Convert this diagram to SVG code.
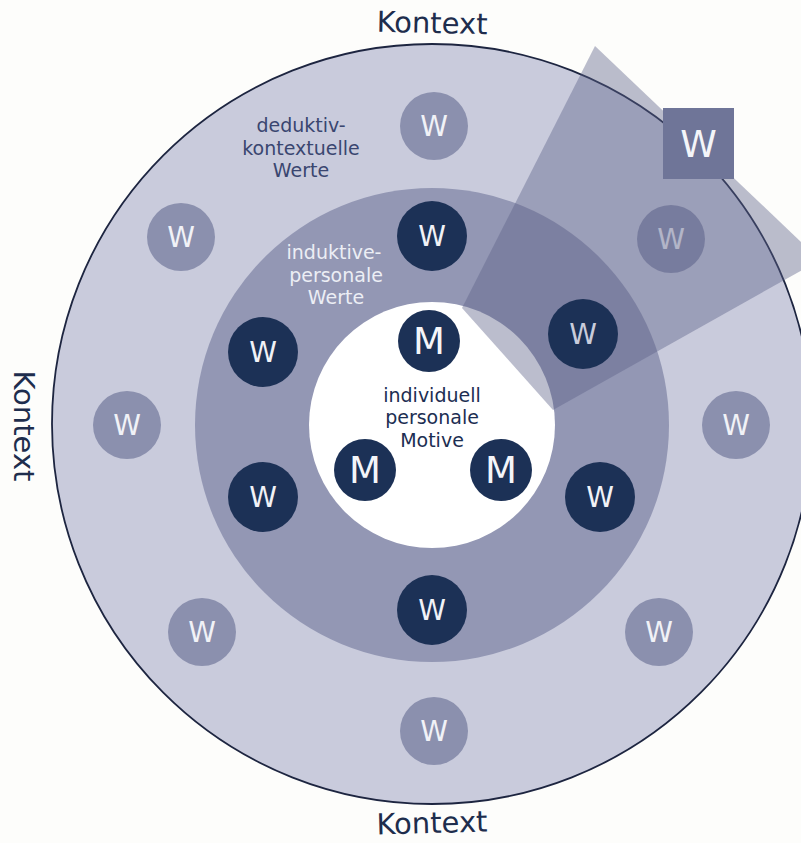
<svg xmlns="http://www.w3.org/2000/svg" width="801" height="843" viewBox="0 0 801 843">
  <style>
    .lbl { font-family: "DejaVu Sans", Verdana, sans-serif; }
    .ctx { font-size: 29px; fill: #1e2d4d; }
    .wl { fill: #8b90ae; }
    .wd { fill: #1c3156; }
    .wt { font-family: "DejaVu Sans", Verdana, sans-serif; font-size: 28px; fill: #f1f2f7; text-anchor: middle; }
    .mt { font-family: "DejaVu Sans", Verdana, sans-serif; font-size: 37px; fill: #f4f5f9; text-anchor: middle; }
    .area { font-family: "DejaVu Sans", Verdana, sans-serif; font-size: 19px; text-anchor: middle; }
  </style>
  <rect x="0" y="0" width="801" height="843" fill="#fdfdfb"/>

  <g id="ring-outer">
    <circle cx="432" cy="424" r="380" fill="#c9cbdc" stroke="#1d2540" stroke-width="1.8"/>
  </g>
  <g id="ring-middle">
    <circle cx="432" cy="425" r="237" fill="#9397b4"/>
  </g>
  <g id="ring-inner">
    <circle cx="432" cy="425" r="123" fill="#ffffff"/>
  </g>

  <g id="labels">
    <text class="lbl ctx" x="432" y="33" text-anchor="middle" transform="rotate(1.2 432 25)">Kontext</text>
    <text class="lbl ctx" x="432" y="833" text-anchor="middle" transform="rotate(-1.5 432 825)">Kontext</text>
    <text class="lbl ctx" text-anchor="middle" transform="translate(14 426) rotate(90)">Kontext</text>
    <text class="area" fill="#3a4670"><tspan x="301" y="132">deduktiv-</tspan><tspan x="301" y="155">kontextuelle</tspan><tspan x="301" y="177">Werte</tspan></text>
    <text class="area" fill="#eceef5"><tspan x="334" y="259">induktive-</tspan><tspan x="336" y="282">personale</tspan><tspan x="336" y="304">Werte</tspan></text>
    <text class="area" fill="#1c2e52" font-size="19.5"><tspan x="432" y="402">individuell</tspan><tspan x="432" y="424">personale</tspan><tspan x="432" y="447">Motive</tspan></text>
  </g>

  <g id="w-outer-1"><circle class="wl" cx="434" cy="126" r="34"/><text class="wt" x="434" y="136">W</text></g>
  <g id="w-outer-2"><circle class="wl" cx="181" cy="237" r="34"/><text class="wt" x="181" y="247">W</text></g>
  <g id="w-outer-3"><circle class="wl" cx="127" cy="425" r="34"/><text class="wt" x="127" y="435">W</text></g>
  <g id="w-outer-4"><circle class="wl" cx="202" cy="632" r="34"/><text class="wt" x="202" y="642">W</text></g>
  <g id="w-outer-5"><circle class="wl" cx="434" cy="731" r="34"/><text class="wt" x="434" y="741">W</text></g>
  <g id="w-outer-6"><circle class="wl" cx="659" cy="632" r="34"/><text class="wt" x="659" y="642">W</text></g>
  <g id="w-outer-7"><circle class="wl" cx="736" cy="425" r="34"/><text class="wt" x="736" y="435">W</text></g>
  <g id="w-outer-8"><circle class="wl" cx="671" cy="239" r="34"/><text class="wt" x="671" y="249">W</text></g>

  <g id="highlight">
    <polygon points="595,46 462,308 553,410 820,260" fill="#5c6189" fill-opacity="0.42"/>
  </g>

  <g id="w-inner-1"><circle class="wd" cx="432" cy="236" r="35"/><text class="wt" x="432" y="246">W</text></g>
  <g id="w-inner-2"><circle class="wd" cx="263" cy="352" r="35"/><text class="wt" x="263" y="362">W</text></g>
  <g id="w-inner-3"><circle class="wd" cx="263" cy="497" r="35"/><text class="wt" x="263" y="507">W</text></g>
  <g id="w-inner-4"><circle class="wd" cx="432" cy="610" r="35"/><text class="wt" x="432" y="620">W</text></g>
  <g id="w-inner-5"><circle class="wd" cx="600" cy="497" r="35"/><text class="wt" x="600" y="507">W</text></g>
  <g id="w-inner-6"><circle class="wd" cx="583" cy="334" r="35"/><text class="wt" x="583" y="344" style="fill:#c9ccdb">W</text></g>

  <g id="m-1"><circle class="wd" cx="429" cy="341" r="31"/><text class="mt" x="429" y="354">M</text></g>
  <g id="m-2"><circle class="wd" cx="365" cy="470" r="31"/><text class="mt" x="365" y="483">M</text></g>
  <g id="m-3"><circle class="wd" cx="501" cy="470" r="31"/><text class="mt" x="501" y="483">M</text></g>

  <g id="w-square">
    <rect x="663" y="108" width="71" height="71" fill="#6f7598"/>
    <text class="mt" x="698.5" y="157" font-size="38">W</text>
  </g>

  <g id="connectors"/>
</svg>
